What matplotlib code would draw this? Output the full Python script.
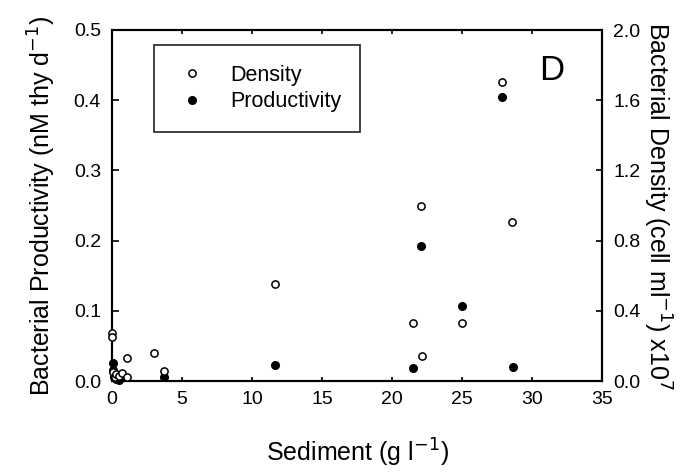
import matplotlib
matplotlib.use("Agg")
import matplotlib.pyplot as plt

plt.rcParams['font.family'] = ['Liberation Sans', 'DejaVu Sans']

# Density (open circles, right axis, cell ml^-1 x10^7)
dens_sed = [0.02, 0.02, 0.1, 0.2, 0.3, 0.5, 0.7, 1.05, 1.05, 3.0, 3.74, 11.67,
            21.5, 22.07, 22.16, 25.02, 27.84, 28.6]
dens_val = [0.275, 0.25, 0.05, 0.02, 0.04, 0.03, 0.045, 0.132, 0.02, 0.161, 0.059, 0.555,
            0.328, 0.998, 0.144, 0.328, 1.706, 0.905]

# Productivity (filled circles, left axis, nM thy d^-1)
prod_sed = [0.05, 0.1, 0.15, 0.2, 0.3, 0.4, 0.5, 3.74, 11.67,
            21.5, 22.07, 25.02, 27.84, 28.67]
prod_val = [0.025, 0.015, 0.005, 0.01, 0.003, 0.008, 0.002, 0.006, 0.0223,
            0.018, 0.193, 0.1065, 0.405, 0.0203]

x_ticks = [0, 5, 10, 15, 20, 25, 30, 35]
left_ticks = [0.0, 0.1, 0.2, 0.3, 0.4, 0.5]
right_ticks = [0.0, 0.4, 0.8, 1.2, 1.6, 2.0]

fig = plt.figure(figsize=(6.99, 4.75), dpi=100)
ax = fig.add_axes([112 / 699, 1 - 381 / 475, 490 / 699, 351 / 475])
ax2 = ax.twinx()

ax.plot(prod_sed, prod_val, 'o', color='black', ms=5.5, mew=1, clip_on=False, zorder=5,
        label='Productivity')
ax2.plot(dens_sed, dens_val, 'o', mfc='white', mec='black', ms=5.2, mew=1.1, clip_on=False,
         zorder=5, label='Density')

ax.set_xlim(0, 35)
ax.set_ylim(0, 0.5)
ax2.set_ylim(0, 2.0)
ax.set_xticks(x_ticks)
ax.set_yticks(left_ticks)
ax2.set_yticks(right_ticks)
ax.set_xticklabels([str(t) for t in x_ticks])
ax.set_yticklabels([f"{t:.1f}" for t in left_ticks])
ax2.set_yticklabels([f"{t:.1f}" for t in right_ticks])

for a in (ax, ax2):
    for s in a.spines.values():
        s.set_linewidth(1.5)
ax.tick_params(axis='y', direction='in', length=5, width=1.2, labelsize=14, pad=8)
ax.tick_params(axis='x', direction='in', length=3, width=1.2, labelsize=14, pad=7, top=True)
ax2.tick_params(axis='y', direction='in', length=4, width=1.2, labelsize=14, pad=8)

ax.set_xlabel('Sediment (g l$^{-1}$)', fontsize=18, labelpad=21)
ax.set_ylabel('Bacterial Productivity (nM thy d$^{-1}$)', fontsize=18, labelpad=11)
ax2.set_ylabel('Bacterial Density (cell ml$^{-1}$) x10$^{7}$', fontsize=18,
               rotation=270, labelpad=24)

h1, l1 = ax2.get_legend_handles_labels()
h2, l2 = ax.get_legend_handles_labels()
leg = ax2.legend(h1 + h2, l1 + l2, loc='upper left', bbox_to_anchor=(0.0857, 0.956),
                 borderaxespad=0, fontsize=15.5, frameon=True, fancybox=False,
                 edgecolor='black', borderpad=0.9, handlelength=1.73, handletextpad=0.9,
                 labelspacing=0.25)
leg.get_frame().set_linewidth(1.3)

ax.text(0.898, 0.886, 'D', transform=ax.transAxes, fontsize=25, ha='center', va='center')

fig.savefig('out.png', dpi=100)
